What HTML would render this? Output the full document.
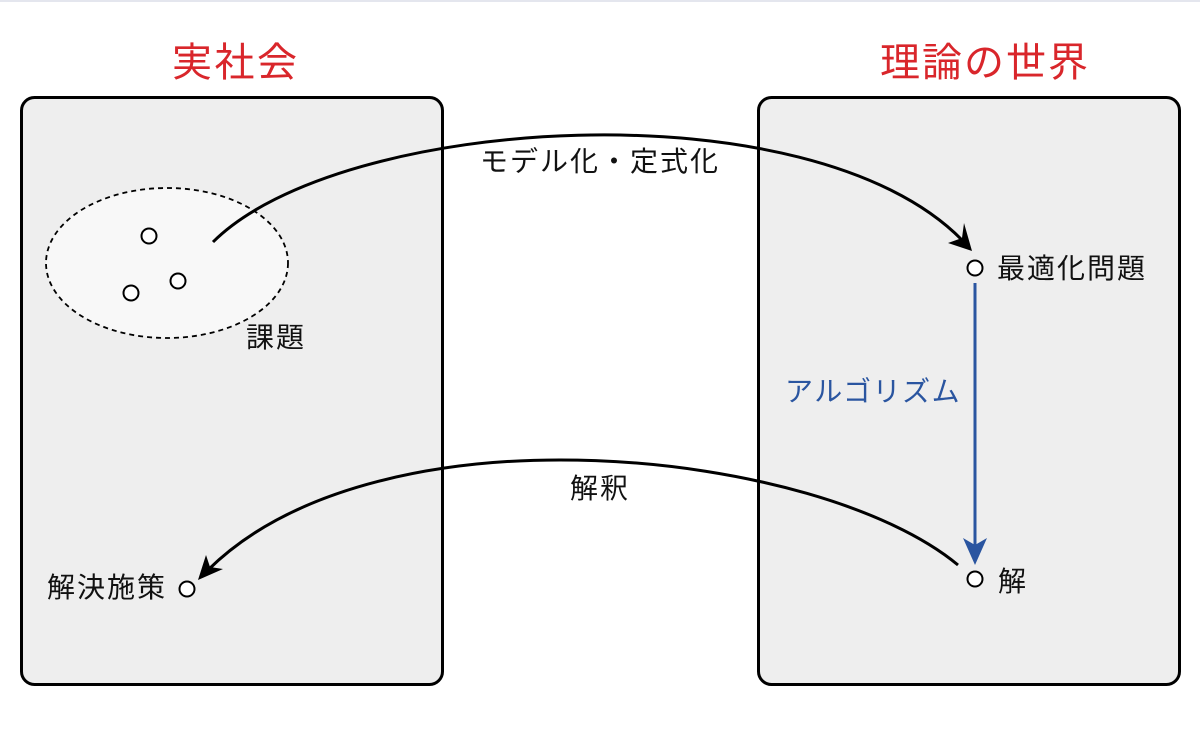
<!DOCTYPE html>
<html><head><meta charset="utf-8"><style>
html,body{margin:0;padding:0;background:#fff;}
svg{display:block;}
text{font-family:"Liberation Sans","Noto Sans CJK JP",sans-serif;}
</style></head><body>
<svg width="1200" height="742" viewBox="0 0 1200 742" xmlns="http://www.w3.org/2000/svg">
<rect x="0" y="0" width="1200" height="2" fill="#e4e6ee"/>
<text x="172" y="76" font-size="40" letter-spacing="2.5" fill="#d9262b">実社会</text>
<text x="880" y="76" font-size="40" letter-spacing="2" fill="#d9262b">理論の世界</text>
<rect x="21.5" y="97.5" width="421" height="587" rx="13" fill="#eeeeee" stroke="#000" stroke-width="3"/>
<rect x="758.5" y="97.5" width="421" height="587" rx="13" fill="#eeeeee" stroke="#000" stroke-width="3"/>
<ellipse cx="167" cy="263" rx="121" ry="75" fill="#f8f8f8" stroke="#000" stroke-width="1.8" stroke-dasharray="5,4"/>
<g fill="#fff" stroke="#000" stroke-width="2">
<circle cx="149" cy="236" r="7.5"/>
<circle cx="178" cy="281" r="7.5"/>
<circle cx="131" cy="293" r="7.5"/>
<circle cx="975" cy="268" r="7.5"/>
<circle cx="975" cy="579" r="7.5"/>
<circle cx="187" cy="589" r="7.5"/>
</g>
<text x="246" y="347" font-size="28" letter-spacing="2" fill="#111">課題</text>
<path d="M213,242 C340,115 810,85 962,240" fill="none" stroke="#000" stroke-width="3"/>
<polygon points="972,251 948,243 962,238 964,223" fill="#000"/>
<text x="480" y="171" font-size="28" letter-spacing="2" fill="#111">モデル化・定式化</text>
<text x="997" y="278" font-size="28" letter-spacing="2" fill="#111">最適化問題</text>
<line x1="975" y1="283" x2="975" y2="550" stroke="#2a55a0" stroke-width="3"/>
<polygon points="975,565 963,538 975,545 987,538" fill="#2a55a0"/>
<text x="785" y="401" font-size="28" letter-spacing="1.5" fill="#2a55a0">アルゴリズム</text>
<text x="998" y="591" font-size="28" fill="#111">解</text>
<path d="M958,565 C820,450 380,400 208,570" fill="none" stroke="#000" stroke-width="3"/>
<polygon points="198,580 206,555 210,567 223,569" fill="#000"/>
<text x="570" y="498" font-size="28" letter-spacing="2" fill="#111">解釈</text>
<text x="47" y="597" font-size="28" letter-spacing="2" fill="#111">解決施策</text>
</svg>
</body></html>
